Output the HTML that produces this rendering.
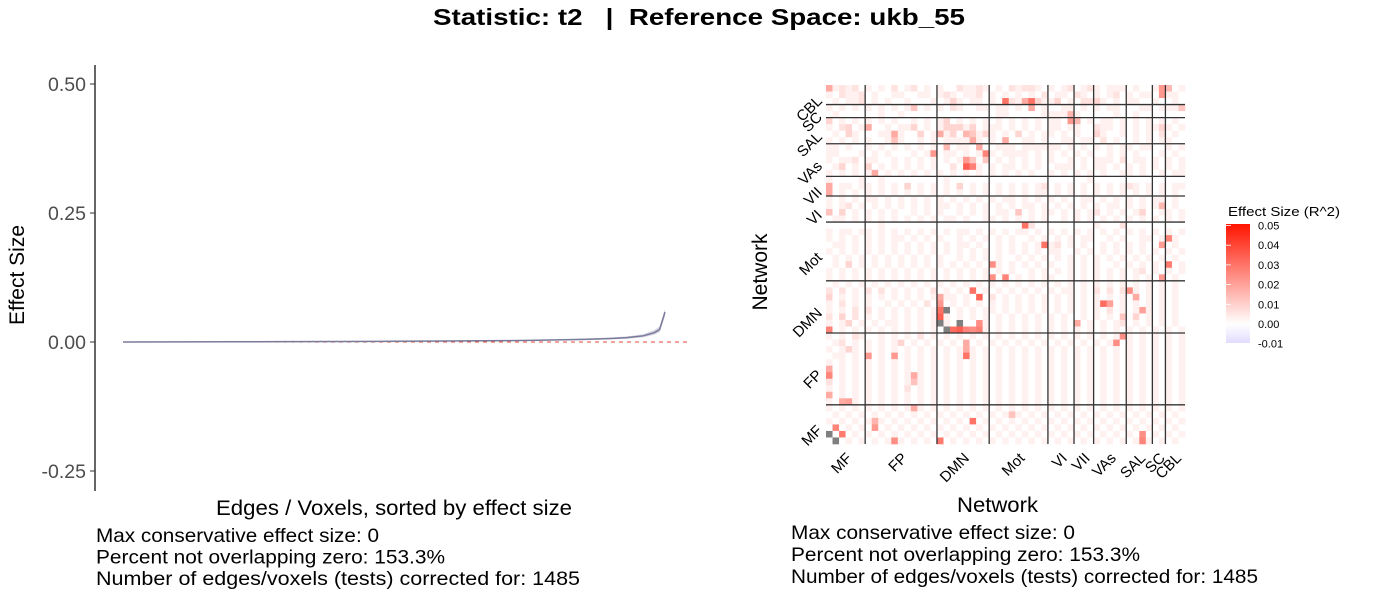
<!DOCTYPE html>
<html><head><meta charset="utf-8"><style>
html,body{margin:0;padding:0;background:#fff;}
svg{display:block;font-family:"Liberation Sans",Arial,sans-serif;}
</style></head><body>
<svg id="root" width="1400" height="600" viewBox="0 0 1400 600">
<text x="433" y="25" textLength="532" lengthAdjust="spacingAndGlyphs" font-size="23" font-weight="bold" fill="#000" xml:space="preserve">Statistic: t2   |  Reference Space: ukb_55</text>
<g id="left"></g>
<g id="right"></g>
<g id="legend"></g>
</svg>
<script>
// ---------- Left chart data ----------
const rankFrac = [0,0.1,0.2,0.3,0.4,0.5,0.6,0.7,0.75,0.8,0.85,0.9,0.93,0.96,0.98,0.99,1.0];
const effectVals = [0,0.0002,0.0004,0.0007,0.001,0.0014,0.0019,0.0026,0.0032,0.004,0.005,0.0068,0.0085,0.012,0.018,0.024,0.058];
const bandLow = [0,0.0001,0.0002,0.0004,0.0006,0.0009,0.0013,0.0018,0.0022,0.0028,0.0036,0.005,0.0064,0.009,0.014,0.019,0.05];
const bandHigh = [0.0003,0.0004,0.0007,0.0011,0.0015,0.002,0.0026,0.0035,0.0042,0.0052,0.0066,0.0088,0.011,0.015,0.023,0.03,0.064];
const yTicks = [0.50,0.25,0.00,-0.25];
const yTickLabels = ["0.50","0.25","0.00","-0.25"];
const nTests = 1485;

// ---------- Heatmap data ----------
const networks = ["MF","FP","DMN","Mot","VI","VII","VAs","SAL","SC","CBL"];
const netSizes = [6,11,8,9,4,3,5,4,2,3];
// rows top->bottom (CBL first), each char: digit d => d*0.003 R^2, 'n' => NA
const heatRows = [
"3121201010201201010021121010212210101201210111010012501",
"1021120100110011012101120101010102011021010120101100110",
"0101120101001000101310110102216431130102231010110010010",
"1010101010101401010210011011010101001101010110001101114",
"0100000010010000000000000011000001111010000010010000000",
"3010101010100101013010101010101010110150101101010101010",
"1023013001011301013331301110101010110110021101010113101",
"0103100011110030101301413101030101101010031001010102010",
"1010101001010010101111210106001101001101102010010101100",
"1101001010101010105011010011101111110101010101101100101",
"1100010101000101001101010101111010101010100101010001010",
"1011201100101010101010404010101010100101011102011010101",
"0130103010101010100201910101101010011101011010101010101",
"1010101101010101010101010101010100101010101001101001011",
"1000010010000000001000000000000000000000100000000000000",
"3011011010103010101030101010101012010101010101210101011",
"1010101010101010101010101010101011010101010101010101010",
"1010101101010101010101010101101010101001101010101011010",
"1012010101010101011010101010101101010101010110101015010",
"1030101010100101010010101011040101101010120101013001101",
"0110101010101010101101001101010101001010101010101010101",
"0000000010000000000000000000000200000000010002000000000",
"1011011010101010101011010101011010101010101010101010101",
"1010101010110101010010101010100101010101100101001101010",
"0110101010101010101011010010101010120101001010101007010",
"1010101010101010101010101010101010110010101010101010101",
"0101010101010101010010101010010101010101010101010101010",
"0103010101010101010101010010101010100101010010101010101",
"1010101010101010101010101010100101010101010101012010101",
"1010101010101010101010101801010101100101010101010107010",
"0101010101010101010101010101010101010101010101010101010",
"2020102020101010201010101010101010101101020202010101010",
"3010101010101010101101010201010101010101010101020101010",
"1020101001010102010101010101010101010101010201010101010",
"1010202010101010101010101101010101010101010201010101010",
"2030201010101010101010101010101010101001010104030101010",
"1013010101101010101010081010101010101010101012010101010",
"1010101010101010101010091010101010101010101010101010101",
"1010210010101020101010101010101010101010101010101010101",
"0120101010130101010101010101010101010101010180101010101",
"1013101010101010101010101010101010101010101010101010101",
"0110101010101010101010101010101010101010101010101010101",
"1010101010101010101010101010101010101010101010101010101",
"8010101010101010101010101010101010101010101010101010101",
"1010101010101010101010101010101010101010101010101010101",
"2010101010101010101010101010101010101010101010101010101",
"1010101010102010101010101010101010101010101010101010101",
"1010101010101010101010101010101010101010101010101010101",
"1010101010101010101010101010101010101010101010101010101",
"1010101010101010101010101010101010101010101010101010101",
"0101010101010101010101010101010101010101010101010101010",
"1010101010101010101010101010101010101010101010101010101",
"0101010101010101010101010101010101010101010101010101010",
"1010101010101010101010101010101010101010101010101010101",
"0101010101010101010101010101010101010101010101010101010"
];
// explicit strong cells: [row, col, value]
const hotCells = [
[2,27,0.03],[2,31,0.03],[3,31,0.018],[12,21,0.034],[11,21,0.022],[21,30,0.03],[24,33,0.03],[23,52,0.026],[27,52,0.028],[27,25,0.024],[29,27,0.026],
[31,22,0.03],[32,23,0.033],[33,42,0.031],[33,43,0.02],[34,17,0.03],[35,17,0.034],[36,17,0.026],[37,19,0.031],[37,20,0.034],[37,21,0.026],[37,22,0.024],
[32,17,0.018],[33,17,0.022],[37,0,0.026],[38,45,0.024],[41,21,0.03],[44,0,0.026],[43,0,0.018],[47,0,0.018],[51,22,0.03],[53,2,0.028],[52,1,0.026],[54,17,0.028],[54,10,0.024],
[31,46,0.024],[32,47,0.018],[34,48,0.02],[41,6,0.022],[41,10,0.022],[44,13,0.018],[45,13,0.013],[49,13,0.018],[48,3,0.02],[48,2,0.018],[52,7,0.022],[51,7,0.016],
[7,10,0.018],[8,10,0.013],[6,6,0.018],[10,16,0.022],[9,23,0.018],[10,24,0.026],[8,22,0.018],[7,17,0.018],[7,21,0.016],[13,7,0.018],[1,51,0.022],[0,51,0.022],[0,0,0.018],[5,37,0.022],[4,37,0.016],
[36,38,0.018],[39,21,0.018],[40,21,0.018],[50,28,0.013],[15,0,0.018],[16,0,0.018],[19,0,0.013],[53,48,0.024],[54,48,0.026]
];
const naCells = [[34,18],[36,17],[36,20],[37,18],[53,0],[54,1]];
const legendTicks = [0.05,0.04,0.03,0.02,0.01,0.00,-0.01];
const legendTickLabels = ["0.05","0.04","0.03","0.02","0.01","0.00","-0.01"];

const NS="http://www.w3.org/2000/svg";
function mk(tag,attrs,parent,name){const e=document.createElementNS(NS,tag);for(const k in attrs)e.setAttribute(k,attrs[k]);


parent.appendChild(e);return e;}

// ---------- left chart ----------
const L=document.getElementById('left');
const yS=v=>342-v*516;
const xS=r=>123+r/nTests*542;
mk('line',{x1:95,y1:65,x2:95,y2:491,stroke:'#000','stroke-width':1.2},L,'y-axis-line');
yTicks.forEach((t,i)=>{
 mk('line',{x1:90,x2:95,y1:yS(t),y2:yS(t),stroke:'#333','stroke-width':1},L,'y-tick');
 const tx=mk('text',{x:86,y:yS(t)+7,'text-anchor':'end','font-size':19.5,fill:'#4d4d4d'},L,'y-tick-label');tx.textContent=yTickLabels[i];
});
mk('line',{x1:123,x2:690,y1:yS(0),y2:yS(0),stroke:'#e34a3a','stroke-width':1,'stroke-dasharray':'4,4'},L,'zero-reference-line');
let bp='';rankFrac.forEach((f,i)=>{bp+=(i?'L':'M')+xS(f*nTests)+','+yS(bandHigh[i]);});
for(let i=rankFrac.length-1;i>=0;i--)bp+='L'+xS(rankFrac[i]*nTests)+','+yS(bandLow[i]);
mk('path',{d:bp+'Z',fill:'#b8b8d0','fill-opacity':0.6},L,'confidence-band');
let lp='';rankFrac.forEach((f,i)=>{lp+=(i?'L':'M')+xS(f*nTests)+','+yS(effectVals[i]);});
mk('path',{d:lp,fill:'none',stroke:'#7a7a9a','stroke-width':1.5},L,'effect-size-line');
let t=mk('text',{x:0,y:0,transform:'translate(24,275) rotate(-90)','text-anchor':'middle','font-size':21,fill:'#000'},L,'y-axis-title');t.textContent='Effect Size';
t=mk('text',{x:216,y:515,textLength:356,lengthAdjust:'spacingAndGlyphs','font-size':21,fill:'#000'},L,'x-axis-title');t.textContent='Edges / Voxels, sorted by effect size';
const sumLines=["Max conservative effect size: 0","Percent not overlapping zero: 153.3%","Number of edges/voxels (tests) corrected for: 1485"];
const sumLens=[283,349,484];
sumLines.forEach((s,i)=>{
 const e=mk('text',{x:96,y:542+i*21.5,'font-size':19.5,textLength:sumLens[i],lengthAdjust:'spacingAndGlyphs',fill:'#000'},L,'summary-line');e.textContent=s;});

// ---------- heatmap ----------
const R=document.getElementById('right');
const N=55,hx0=826,hy0=85,cw=359/55;
function color(v){
 if(v>=0){const f=Math.min(v/0.05,1);return `rgb(255,${Math.round(255-235*f)},${Math.round(255-255*f)})`;}
 const f=Math.min(-v/0.01,1);return `rgb(${Math.round(255-30*f)},${Math.round(255-35*f)},255)`;
}
const M=[];
for(let r=0;r<N;r++){M.push([]);const s=(heatRows[r]||'').padEnd(N,'0');for(let c=0;c<N;c++){M[r].push(parseInt(s[c])*0.003);}}
hotCells.forEach(h=>{M[h[0]][h[1]]=h[2];});
naCells.forEach(h=>{M[h[0]][h[1]]=null;});
for(let r=0;r<N;r++)for(let c=0;c<N;c++){
 const v=M[r][c];
 mk('rect',{x:hx0+c*cw,y:hy0+r*cw,width:cw+0.3,height:cw+0.3,fill:v===null?'#7f7f7f':color(v)},R,'heatmap-cell');
}
let acc=0;const starts=[];netSizes.forEach(s=>{starts.push(acc);acc+=s;});
starts.slice(1).forEach(s=>{
 mk('line',{x1:hx0+s*cw,x2:hx0+s*cw,y1:hy0,y2:hy0+N*cw,stroke:'#333','stroke-width':1.3},R,'network-boundary-vertical');
 const yy=hy0+(N-s)*cw;
 mk('line',{x1:hx0,x2:hx0+N*cw,y1:yy,y2:yy,stroke:'#333','stroke-width':1.3},R,'network-boundary-horizontal');
});
networks.forEach((n,i)=>{
 const cx=hx0+(starts[i]+netSizes[i]/2)*cw;
 let e=mk('text',{x:0,y:0,transform:`translate(${cx+7},${hy0+N*cw+15}) rotate(-45)`,'text-anchor':'end','font-size':15,fill:'#000'},R,'x-tick-label');e.textContent=n;
 const cy=hy0+(N-starts[i]-netSizes[i]/2)*cw;
 e=mk('text',{x:0,y:0,transform:`translate(${hx0-3},${cy+7}) rotate(-45)`,'text-anchor':'end','font-size':15,fill:'#000'},R,'y-tick-label');e.textContent=n;
});
t=mk('text',{x:0,y:0,transform:'translate(767,272) rotate(-90)','text-anchor':'middle','font-size':21,fill:'#000'},R,'y-axis-title');t.textContent='Network';
t=mk('text',{x:957,y:512,textLength:81,lengthAdjust:'spacingAndGlyphs','font-size':21,fill:'#000'},R,'x-axis-title');t.textContent='Network';
const sumLensR=[284,349,467];
sumLines.forEach((s,i)=>{
 const e=mk('text',{x:791,y:539+i*22,'font-size':19.5,textLength:sumLensR[i],lengthAdjust:'spacingAndGlyphs',fill:'#000'},R,'summary-line');e.textContent=s;});

// ---------- legend ----------
const G=document.getElementById('legend');
t=mk('text',{x:1228,y:216,textLength:112,lengthAdjust:'spacingAndGlyphs','font-size':13,fill:'#000'},G,'legend-title');t.textContent='Effect Size (R^2)';
const lyS=v=>324-v*1970;
const defs=mk('defs',{},G,'legend-defs');
const grad=mk('linearGradient',{id:'lg',x1:0,y1:0,x2:0,y2:1},defs,'legend-gradient');
mk('stop',{offset:'0','stop-color':color(0.052)},grad,'stop');
mk('stop',{offset:String((lyS(0)-224)/(343-224)),'stop-color':'#fff'},grad,'stop');
mk('stop',{offset:'1','stop-color':color(-0.01)},grad,'stop');
mk('rect',{x:1226,y:224,width:24,height:119,fill:'url(#lg)'},G,'colorbar');
legendTicks.forEach((v,i)=>{
 const e=mk('text',{x:1258,y:lyS(v)+4,'font-size':11,fill:'#000'},G,'legend-tick-label');e.textContent=legendTickLabels[i];
 mk('line',{x1:1226,x2:1231,y1:lyS(v),y2:lyS(v),stroke:'#fff','stroke-width':0.8},G,'legend-tick');
});
</script>
</body></html>
